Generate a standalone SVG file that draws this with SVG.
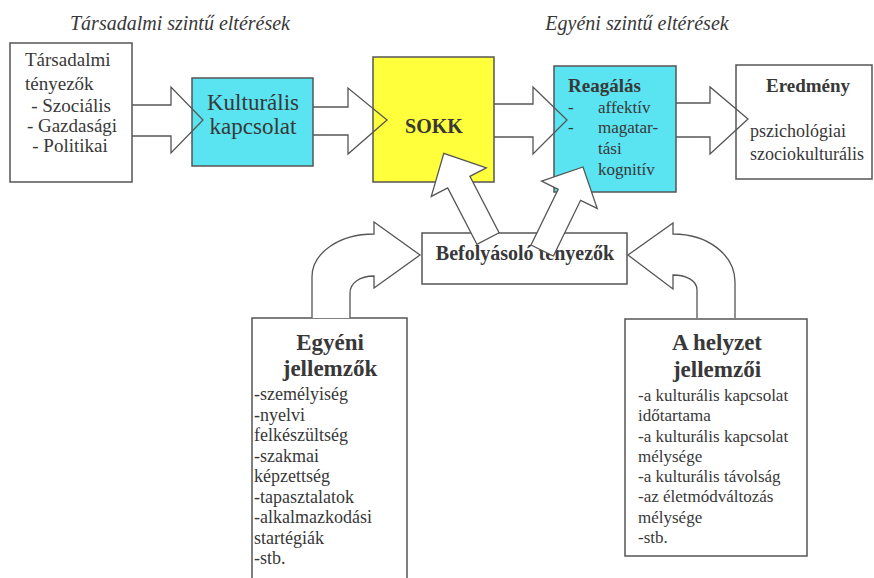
<svg xmlns="http://www.w3.org/2000/svg" width="874" height="578" viewBox="0 0 874 578" font-family="'Liberation Serif', 'DejaVu Serif', serif">
<style>
text { font-family: 'Liberation Serif', 'DejaVu Serif', serif; fill: #383838; }
.box { stroke: #555; stroke-width: 1.5; fill: #fff; }
.cyan { fill: #5ae3f0; }
.yellow { fill: #ffff3c; }
.arr { stroke: #555; stroke-width: 1.3; fill: #fff; stroke-linejoin: miter; }
.open { fill: none; }
.title { font-style: italic; font-size: 20px; text-anchor: middle; }
.b { font-weight: bold; }
.m { text-anchor: middle; }
</style>
<rect width="874" height="578" fill="#fff"/>
<text class="title" x="180" y="30">Társadalmi szintű eltérések</text>
<text class="title" x="637" y="30">Egyéni szintű eltérések</text>

<g id="tarsadalmi">
<rect class="box" x="10" y="43" width="122" height="139"/>
<text font-size="19" x="25" y="66">Társadalmi</text>
<text font-size="19" x="25" y="90">tényezők</text>
<text font-size="19" class="m" x="71" y="112">- Szociális</text>
<text font-size="19" class="m" x="72" y="132">- Gazdasági</text>
<text font-size="19" class="m" x="70" y="152">- Politikai</text>
</g>

<g id="kulturalis">
<rect class="box cyan" x="192" y="78" width="121" height="88"/>
<text font-size="23" class="m" x="253" y="110">Kulturális</text>
<text font-size="23" class="m" x="253" y="134">kapcsolat</text>
</g>

<g id="sokk">
<rect class="box yellow" x="373" y="57" width="121" height="125"/>
<text font-size="20" class="b m" x="434" y="133">SOKK</text>
</g>

<g id="reagalas">
<rect class="box cyan" x="554" y="66" width="122" height="126"/>
<text font-size="19" class="b" x="568" y="92">Reagálás</text>
<text font-size="17" x="568" y="113">-</text>
<text font-size="17" x="598" y="113">affektív</text>
<text font-size="17" x="568" y="133">-</text>
<text font-size="17" x="598" y="133">magatar-</text>
<text font-size="17" x="598" y="154">tási</text>
<text font-size="17" x="598" y="175">kognitív</text>
</g>

<g id="eredmeny">
<rect class="box" x="736" y="65" width="136" height="114"/>
<text font-size="19" class="b m" x="808" y="92">Eredmény</text>
<text font-size="18" x="750" y="137">pszichológiai</text>
<text font-size="18" x="750" y="160">szociokulturális</text>
</g>

<g id="befolyasolo">
<rect class="box" x="422" y="233" width="205" height="51"/>
<text font-size="20" class="b m" x="525" y="260">Befolyásoló tényezők</text>
</g>

<g id="egyeni">
<rect class="box" x="252" y="318" width="155" height="270"/>
<text font-size="23" class="b m" x="330" y="350">Egyéni</text>
<text font-size="23" class="b m" x="330" y="376">jellemzők</text>
<text font-size="18" x="254" y="400">-személyiség</text>
<text font-size="18" x="254" y="420.5">-nyelvi</text>
<text font-size="18" x="254" y="441">felkészültség</text>
<text font-size="18" x="254" y="461.5">-szakmai</text>
<text font-size="18" x="254" y="482">képzettség</text>
<text font-size="18" x="254" y="502.5">-tapasztalatok</text>
<text font-size="18" x="254" y="523">-alkalmazkodási</text>
<text font-size="18" x="254" y="543.5">startégiák</text>
<text font-size="18" x="254" y="564">-stb.</text>
</g>

<g id="helyzet">
<rect class="box" x="625" y="319" width="182" height="237"/>
<text font-size="23" class="b m" x="717" y="350">A helyzet</text>
<text font-size="23" class="b m" x="717" y="377">jellemzői</text>
<text font-size="17" x="638" y="401">-a kulturális kapcsolat</text>
<text font-size="17" x="638" y="421">időtartama</text>
<text font-size="17" x="638" y="441.5">-a kulturális kapcsolat</text>
<text font-size="17" x="638" y="461.5">mélysége</text>
<text font-size="17" x="638" y="482">-a kulturális távolság</text>
<text font-size="17" x="638" y="502">-az életmódváltozás</text>
<text font-size="17" x="638" y="522.5">mélysége</text>
<text font-size="17" x="638" y="543">-stb.</text>
</g>

<g id="connectors">
<path class="arr open" d="M132,105 H171 V87 L203,120 L171,153 V136 H132"/>
<path class="arr open" d="M313,107 H348 V88 L387,120 L348,154 V135 H313"/>
<path class="arr open" d="M494,104 H533 V87 L567,120 L533,154 V137 H494"/>
<path class="arr open" d="M676,103 H710 V87 L748,119 L710,154 V137 H676"/>
<path class="arr" d="M476.9,244.3 L447.7,187.9 L431.3,196.4 L443.8,153.3 L486.3,167.8 L469.9,176.4 L499.1,232.8 Z"/>
<path class="arr" d="M531,245 L558.2,189.3 L541.6,181.2 L583,167 L597.2,208.4 L580.6,200.3 L553.4,256 Z"/>
<path class="arr" d="M312,318 V277 C312,253 339,234 374,234 V222 L420,255 L374,288 V276 C360,276 350,283 350,293 V318"/>
<path class="arr" d="M735,318 V282 C735,255 708,234 673,234 V223 L628,255 L673,289 V275 C687,275 697,281 697,290 V318"/>
</g>
</svg>
